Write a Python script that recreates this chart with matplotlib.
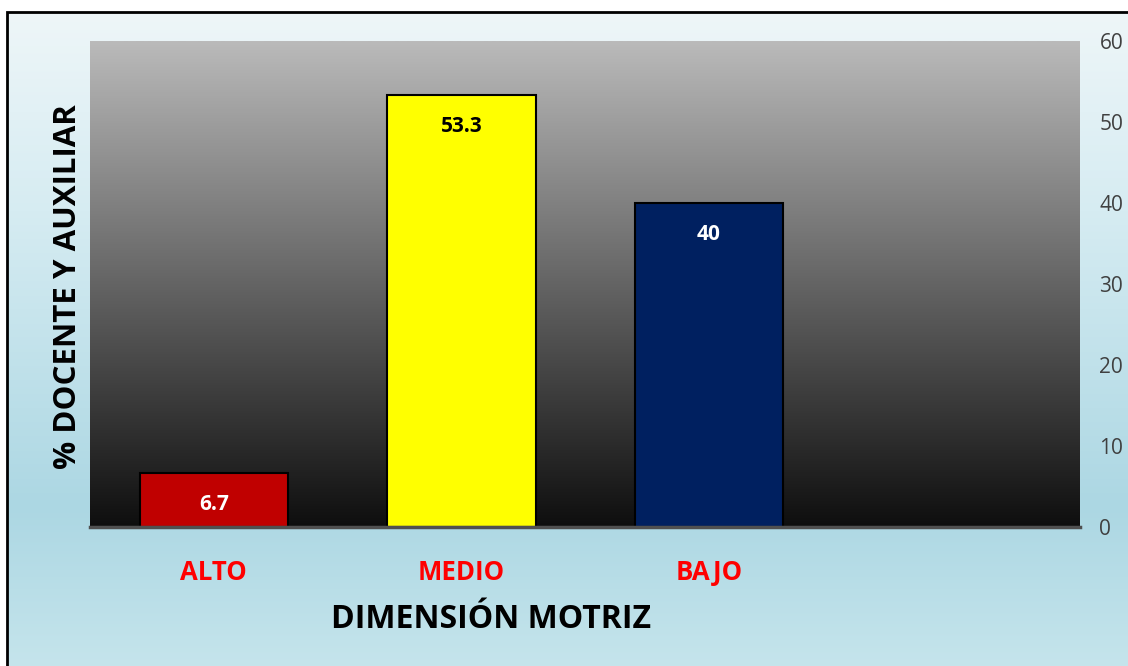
import numpy as np
import matplotlib.pyplot as plt
from matplotlib.colors import LinearSegmentedColormap
from matplotlib.patches import Rectangle

plt.rcParams['font.family'] = ['Open Sans', 'DejaVu Sans']

categories = ['ALTO', 'MEDIO', 'BAJO']
values = [6.7, 53.3, 40]
bar_colors = ['#c00000', '#ffff00', '#002060']
label_colors = ['white', 'black', 'white']
yticks = [0, 10, 20, 30, 40, 50, 60]

W, H = 1128, 666
fig = plt.figure(figsize=(W / 100, H / 100), dpi=100)

# light blue background inside the chart frame
bg = fig.add_axes([0, 0, 1, 1], zorder=-2)
bg_cmap = LinearSegmentedColormap.from_list(
    'bg', [(0, '#c6e5ec'), (0.25, '#acd7e3'), (0.7, '#d6ecf2'), (1, '#eef6f8')])
grad = np.linspace(0, 1, 256).reshape(-1, 1)
bg.imshow(grad, cmap=bg_cmap, aspect='auto', origin='lower',
          extent=[7 / W, 1.01, -0.01, 1 - 12 / H])
bg.add_patch(Rectangle((7 / W, -0.05), 1.2, 1 - 12 / H + 0.05,
                       fill=False, edgecolor='black', linewidth=2))
bg.set_xlim(0, 1)
bg.set_ylim(0, 1)
bg.axis('off')

ax = fig.add_axes([90 / W, (H - 527) / H, 990 / W, 486 / H])
x = np.arange(len(categories))
xlim = (-0.5, 3.5)

# gray to black gradient in plot area
pa_cmap = LinearSegmentedColormap.from_list('pa', ['#0e0e0e', '#bababa'])
ax.imshow(grad, cmap=pa_cmap, aspect='auto', origin='lower',
          extent=[xlim[0], xlim[1], 0, 60], zorder=0)

ax.bar(x, values, width=0.6, color=bar_colors, edgecolor='black',
       linewidth=1.5, zorder=2)

for i, v in enumerate(values):
    ax.text(x[i], v - 3.9, f'{v:g}', ha='center', va='center',
            fontsize=15, fontweight='bold', color=label_colors[i], zorder=3)

ax.set_xlim(*xlim)
ax.set_ylim(0, 60)
ax.yaxis.tick_right()
ax.set_yticks(yticks)
ax.tick_params(axis='y', length=0, pad=14, labelsize=15, labelcolor='#404040')
ax.set_xticks(x)
ax.set_xticklabels(categories)
ax.tick_params(axis='x', length=0, pad=23, labelsize=18.5, labelcolor='#ff0000')
for lab in ax.get_xticklabels():
    lab.set_fontweight('bold')
for s in ['top', 'left', 'right']:
    ax.spines[s].set_visible(False)
ax.spines['bottom'].set_color('#505050')
ax.spines['bottom'].set_linewidth(2.5)
ax.spines['bottom'].set_zorder(4)

fig.text(491 / W, 1 - 620 / H, 'DIMENSIÓN MOTRIZ', ha='center', va='center',
         fontsize=23, fontweight='bold', color='black')
fig.text(68 / W, 1 - 287 / H, '% DOCENTE Y AUXILIAR', ha='center', va='center',
         rotation=90, fontsize=22.5, fontweight='bold', color='black')

fig.savefig('out.png', dpi=100)
